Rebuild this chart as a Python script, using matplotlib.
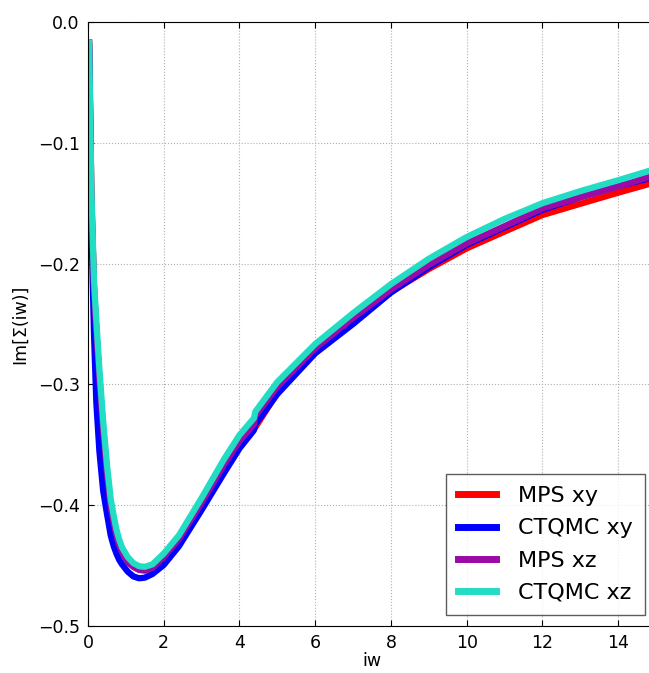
import matplotlib
matplotlib.use("Agg")
import matplotlib.pyplot as plt

# Matsubara frequencies
iw = [0.03, 0.09, 0.16, 0.22, 0.3, 0.4, 0.5, 0.6, 0.68, 0.75, 0.82, 0.9, 1.05, 1.2,
      1.35, 1.5, 1.7, 2.0, 2.4, 3.0, 3.6, 4.0, 4.38, 4.42, 5.0, 6.0, 7.0, 8.0, 9.0,
      10.0, 11.0, 12.0, 13.0, 14.0, 15.0]

mps_xy = [-0.017, -0.145, -0.222, -0.255, -0.295, -0.338, -0.373, -0.401, -0.415,
          -0.425, -0.433, -0.439, -0.447, -0.451, -0.4535, -0.454, -0.452, -0.443,
          -0.429, -0.400, -0.369, -0.351, -0.337, -0.3355, -0.307, -0.273, -0.249,
          -0.2235, -0.2045, -0.1874, -0.1735, -0.1598, -0.1505, -0.1413, -0.1325]

ctqmc_xy = [-0.020, -0.170, -0.260, -0.315, -0.355, -0.388, -0.407, -0.425, -0.434,
            -0.440, -0.445, -0.449, -0.455, -0.459, -0.4605, -0.460, -0.457, -0.4495,
            -0.434, -0.404, -0.373, -0.353, -0.338, -0.333, -0.308, -0.2743, -0.250,
            -0.224, -0.203, -0.1845, -0.170, -0.1555, -0.145, -0.136, -0.128]

mps_xz = [-0.017, -0.145, -0.222, -0.255, -0.295, -0.338, -0.373, -0.401, -0.415,
          -0.425, -0.433, -0.439, -0.447, -0.451, -0.4535, -0.454, -0.452, -0.443,
          -0.428, -0.398, -0.366, -0.347, -0.333, -0.326, -0.302, -0.270, -0.245,
          -0.2215, -0.201, -0.1833, -0.169, -0.1543, -0.145, -0.1363, -0.1265]

ctqmc_xz = [-0.017, -0.140, -0.215, -0.247, -0.287, -0.330, -0.366, -0.395, -0.409,
            -0.420, -0.428, -0.435, -0.443, -0.448, -0.4505, -0.451, -0.449, -0.440,
            -0.425, -0.394, -0.3615, -0.342, -0.328, -0.3225, -0.298, -0.2666, -0.241,
            -0.217, -0.196, -0.178, -0.163, -0.150, -0.140, -0.131, -0.1215]

labels = ['MPS xy', 'CTQMC xy', 'MPS xz', 'CTQMC xz']
colors = ['#ff0000', '#0000ff', '#9a0aa6', '#22dcc4']

fig = plt.figure(figsize=(6.49, 6.73), dpi=100, facecolor='white')
ax = fig.add_axes([88/649, 47/673, 568/649, 604/673])

for ys, lab, c in zip([mps_xy, ctqmc_xy, mps_xz, ctqmc_xz], labels, colors):
    ax.plot(iw, ys, color=c, lw=4.5, label=lab, solid_joinstyle='round')

ax.set_xlim(0, 15)
ax.set_ylim(-0.5, 0.0)
ax.set_xticks(range(0, 16, 2))
ax.set_yticks([-0.5, -0.4, -0.3, -0.2, -0.1, 0.0])
ax.grid(True, color='#b0b0b0', linestyle=':', linewidth=0.8)
ax.set_axisbelow(True)
ax.tick_params(direction='in', labelsize=12.5, length=4, pad=6, top=True, right=True)
ax.spines['right'].set_visible(False)
ax.set_xlabel('iw', fontsize=12.5, labelpad=0)
ax.set_ylabel('Im[Σ(iw)]', fontsize=12.5, labelpad=6)

leg = ax.legend(loc='lower right', bbox_to_anchor=(645/649, 58/673),
                bbox_transform=fig.transFigure, borderaxespad=0, fontsize=16,
                fancybox=False, handlelength=1.7, handletextpad=1.0,
                labelspacing=0.55, borderpad=0.55)
leg.get_frame().set_edgecolor('#333333')
leg.get_frame().set_linewidth(1.0)
for line in leg.get_lines():
    line.set_linewidth(5)

fig.savefig('out.png', dpi=100, facecolor='white')
